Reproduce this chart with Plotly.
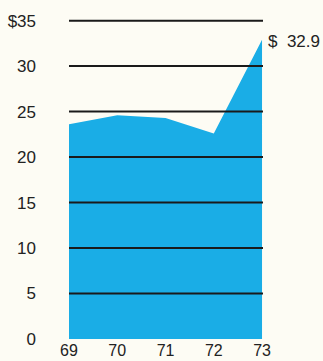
import plotly.graph_objects as go

# Annual values in dollars, 1969-1973
years = [69, 70, 71, 72, 73]
values = [23.6, 24.6, 24.3, 22.6, 32.9]

# Y-axis ticks and their labels
y_ticks = [0, 5, 10, 15, 20, 25, 30, 35]
y_labels = ["0", "5", "10", "15", "20", "25", "30", "$35"]
x_labels = ["69", "70", "71", "72", "73"]

fill_color = "#1aade6"
bg_color = "#fdfcf4"
ink = "#222222"
font_family = "Liberation Sans, Arial, sans-serif"

fig = go.Figure()
fig.add_trace(go.Scatter(
    x=years, y=values,
    mode="lines",
    line=dict(width=0, color=fill_color),
    fill="tozeroy",
    fillcolor=fill_color,
    hoverinfo="skip",
    showlegend=False,
))

# Horizontal rules drawn over the filled area
for t in y_ticks[1:]:
    fig.add_shape(
        type="line", xref="paper", yref="y",
        x0=0, x1=1, y0=t, y1=t,
        line=dict(color="#1a1a1a", width=2),
        layer="above",
    )

# Value callout for the last year
fig.add_annotation(
    x=years[-1], y=values[-1],
    text="$  " + str(values[-1]),
    showarrow=False,
    xanchor="left", yanchor="middle",
    xshift=4, yshift=-2,
    font=dict(size=17, color=ink, family=font_family),
)

fig.update_layout(
    width=323, height=361,
    margin=dict(l=69, r=60, t=17, b=22),
    paper_bgcolor=bg_color,
    plot_bgcolor=bg_color,
    font=dict(family=font_family, size=17, color=ink),
    xaxis=dict(
        range=[69, 73.02],
        tickvals=years, ticktext=x_labels,
        tickfont=dict(size=16),
        showgrid=False, zeroline=False, showline=False,
        ticks="", ticklabelstandoff=0,
        automargin=False,
        fixedrange=True,
    ),
    yaxis=dict(
        range=[0, 35.4],
        tickvals=y_ticks, ticktext=y_labels,
        showgrid=False, zeroline=False, showline=False,
        ticks="", ticklabelstandoff=32,
        automargin=False,
        fixedrange=True,
    ),
)

fig.write_html("out.html")
